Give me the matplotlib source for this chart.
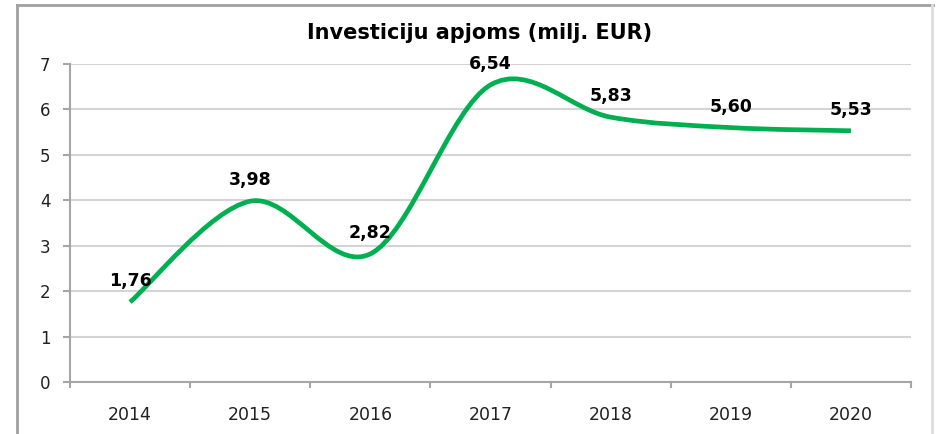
import matplotlib
matplotlib.use("Agg")
import matplotlib.pyplot as plt
from matplotlib.path import Path
from matplotlib.patches import PathPatch
from matplotlib.lines import Line2D

years = ["2014", "2015", "2016", "2017", "2018", "2019", "2020"]
values = [1.76, 3.98, 2.82, 6.54, 5.83, 5.60, 5.53]
labels = ["1,76", "3,98", "2,82", "6,54", "5,83", "5,60", "5,53"]
title = "Investiciju apjoms (milj. EUR)"

GREEN = "#00B050"
GRID = "#D4D4D4"
AXIS = "#A6A6A6"


def smooth_path(xs, ys):
    """Excel-like smoothed line: Catmull-Rom segments as cubic Beziers."""
    pts = list(zip(xs, ys))
    verts = [pts[0]]
    codes = [Path.MOVETO]
    n = len(pts)
    for i in range(n - 1):
        p0 = pts[i - 1] if i > 0 else pts[i]
        p1 = pts[i]
        p2 = pts[i + 1]
        p3 = pts[i + 2] if i + 2 < n else pts[i + 1]
        c1 = (p1[0] + (p2[0] - p0[0]) / 6, p1[1] + (p2[1] - p0[1]) / 6)
        c2 = (p2[0] - (p3[0] - p1[0]) / 6, p2[1] - (p3[1] - p1[1]) / 6)
        verts += [c1, c2, p2]
        codes += [Path.CURVE4] * 3
    return Path(verts, codes)


fig = plt.figure(figsize=(9.39, 4.34), dpi=100)
ax = fig.add_axes([70 / 939, 52 / 434, 841 / 939, 318 / 434])

x = list(range(len(years)))
ax.add_patch(PathPatch(smooth_path(x, values), facecolor="none",
                       edgecolor=GREEN, linewidth=3.4, capstyle="butt", zorder=3))

for xi, v, lab in zip(x, values, labels):
    ax.annotate(lab, (xi, v), xytext=(0, 15), textcoords="offset points",
                ha="center", va="center", fontsize=12.5, fontweight="bold",
                color="black", zorder=4)

ax.set_xlim(-0.5, len(years) - 0.5)
ax.set_ylim(0, 7)
ax.set_yticks(range(8))
ax.set_xticks(x)
ax.set_xticklabels(years)
ax.set_xticks([i - 0.5 for i in range(len(years) + 1)], minor=True)

ax.grid(axis="y", color=GRID, linewidth=1.5, zorder=0)
ax.set_axisbelow(True)
for side in ["top", "right"]:
    ax.spines[side].set_visible(False)
for side in ["left", "bottom"]:
    ax.spines[side].set_color(AXIS)
    ax.spines[side].set_linewidth(1.5)

ax.tick_params(axis="y", length=5, width=1.5, color=AXIS, pad=9,
               labelsize=12, labelcolor="#222222")
ax.tick_params(axis="x", which="major", length=0, pad=17,
               labelsize=12.5, labelcolor="#222222")
ax.tick_params(axis="x", which="minor", length=4, width=1.5, color=AXIS)

fig.text(480 / 939, 1 - 33 / 434, title, ha="center", va="center",
         fontsize=15, fontweight="bold")

# chart area border
fig.add_artist(Line2D([17 / 939, 933 / 939], [1 - 5 / 434] * 2,
                      transform=fig.transFigure, color="#A0A0A0", linewidth=2))
fig.add_artist(Line2D([17 / 939] * 2, [0, 1 - 5 / 434],
                      transform=fig.transFigure, color="#A0A0A0", linewidth=2))
fig.add_artist(Line2D([932 / 939] * 2, [0, 1 - 5 / 434],
                      transform=fig.transFigure, color="#DDDDDD", linewidth=2))

plt.savefig("out.png", dpi=100, facecolor="white")
